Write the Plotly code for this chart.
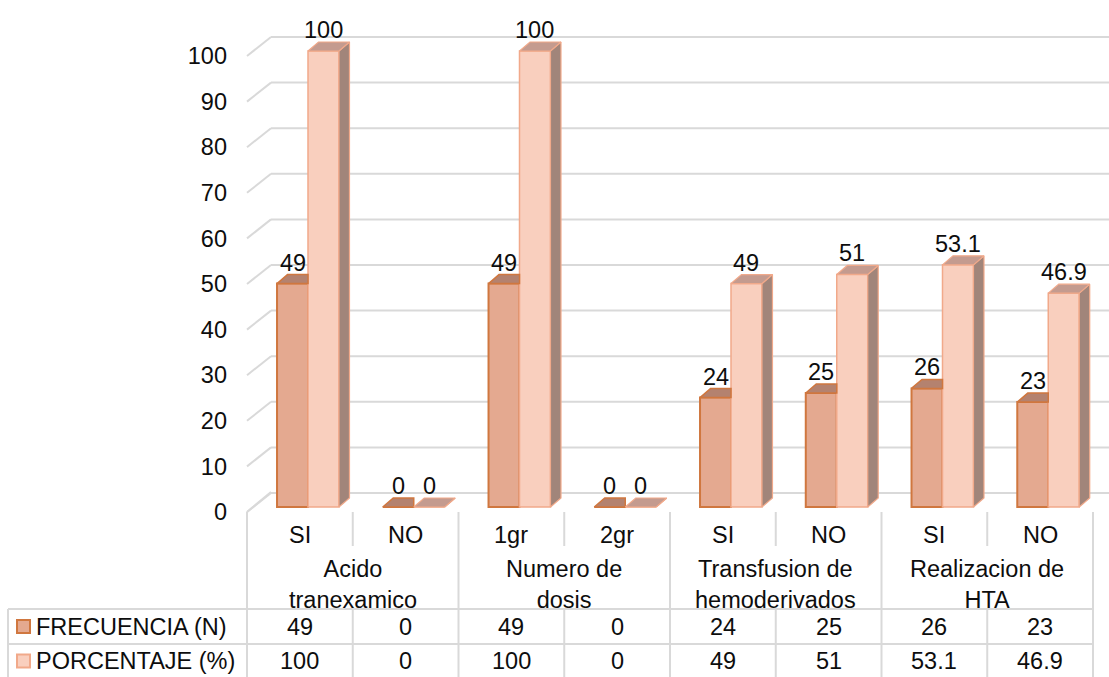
import plotly.graph_objects as go

# ---- data ----
categories = ["SI", "NO", "1gr", "2gr", "SI", "NO", "SI", "NO"]
groups = ["Acido<br>tranexamico", "Numero de<br>dosis",
          "Transfusion de<br>hemoderivados", "Realizacion de<br>HTA"]
series_names = ["FRECUENCIA (N)", "PORCENTAJE (%)"]
frecuencia = [49, 0, 49, 0, 24, 25, 26, 23]
porcentaje = [100, 0, 100, 0, 49, 51, 53.1, 46.9]
y_ticks = [0, 10, 20, 30, 40, 50, 60, 70, 80, 90, 100]

# ---- styling / geometry ----
W, H = 1109, 677
FONT = "Liberation Sans, Arial, sans-serif"
FS = 23.5
TXT = "#0d0d0d"
GRID = "#D9D9D9"

OR_FILL, OR_LINE, OR_TOP = "#E4A990", "#D0773F", "#B4826F"
PK_FILL, PK_LINE, PK_TOP, PK_SIDE = "#F9CFBE", "#F1A98A", "#C49B8F", "#A1857A"

# pixel <-> axis mapping (one category = CAT_PX pixels, one unit = UNIT_PX pixels)
CAT_PX = 105.75
UNIT_PX = 4.56
X0_PX = 308.0      # pixel of category 0 (pair center)
Y0_PX = 507.0      # pixel of value 0 on bar fronts
x_range = [-X0_PX / CAT_PX, (W - X0_PX) / CAT_PX]
y_range = [(Y0_PX - H) / UNIT_PX, Y0_PX / UNIT_PX]

BAR_W = 0.293                  # width of one bar, in category units
DX = 10.5 / CAT_PX             # depth offset (x) of 3D faces
DY = 9.0 / UNIT_PX             # depth offset (y) of 3D faces


def px(x):
    return x / W


def py(y):
    return 1 - y / H


fig = go.Figure()

# gridlines: slanted from the front edge to the back wall, then across
FRONT_X, BACK_X = 247, 271
for v in y_ticks:
    yf = Y0_PX + 5 - v * UNIT_PX
    yb = Y0_PX - 14 - v * UNIT_PX
    fig.add_shape(type="line", xref="paper", yref="paper",
                  x0=px(FRONT_X), y0=py(yf), x1=px(BACK_X), y1=py(yb),
                  line=dict(color=GRID, width=2), layer="below")
    fig.add_shape(type="line", xref="paper", yref="paper",
                  x0=px(BACK_X), y0=py(yb), x1=1, y1=py(yb),
                  line=dict(color=GRID, width=2), layer="below")

xs = list(range(len(categories)))

# front faces
fig.add_trace(go.Bar(x=xs, y=frecuencia, width=BAR_W, offset=-BAR_W,
                     marker=dict(color=OR_FILL, line=dict(color=OR_LINE, width=2)),
                     name=series_names[0], showlegend=False, hoverinfo="skip"))
fig.add_trace(go.Bar(x=xs, y=porcentaje, width=BAR_W, offset=0,
                     marker=dict(color=PK_FILL, line=dict(color=PK_LINE, width=1.5)),
                     name=series_names[1], showlegend=False, hoverinfo="skip"))


def poly_trace(px_list, py_list, fill, line, width):
    return go.Scatter(x=px_list, y=py_list, mode="lines", fill="toself",
                      fillcolor=fill, line=dict(color=line, width=width),
                      hoverinfo="skip", showlegend=False)


# top faces of the first series (its right part hides behind the second series)
tx, ty = [], []
for i, v in zip(xs, frecuencia):
    x0, x1 = i - BAR_W, i
    tx += [x0, x0 + DX, x1, x1, x0, None]
    ty += [v, v + DY, v + DY, v, v, None]
fig.add_trace(poly_trace(tx, ty, OR_TOP, OR_LINE, 1.5))

# top and side faces of the second series
tx, ty, sx, sy = [], [], [], []
for i, v in zip(xs, porcentaje):
    x0, x1 = i, i + BAR_W
    tx += [x0, x0 + DX, x1 + DX, x1, x0, None]
    ty += [v, v + DY, v + DY, v, v, None]
    sx += [x1, x1 + DX, x1 + DX, x1, x1, None]
    sy += [0, DY, v + DY, v, 0, None]
fig.add_trace(poly_trace(sx, sy, PK_SIDE, PK_LINE, 1.2))
fig.add_trace(poly_trace(tx, ty, PK_TOP, PK_LINE, 1.2))

annotations = []
font = dict(family=FONT, size=FS, color=TXT)

# data labels
for i, (a, b) in enumerate(zip(frecuencia, porcentaje)):
    for xc, v in ((i - BAR_W / 2, a), (i + BAR_W / 2, b)):
        annotations.append(dict(x=xc, y=v, xref="x", yref="y", text=f"{v:g}",
                                showarrow=False, xanchor="center", yanchor="bottom",
                                yshift=6, font=font))

# category axis + data table
LEFT_PX, COL0_PX, ROW_TOP, ROW_MID, FLOOR = 8, 247, 609, 644, 512
col_edges = [COL0_PX + k * CAT_PX for k in range(len(categories) + 1)]
col_centers = [COL0_PX + (k + 0.5) * CAT_PX for k in range(len(categories))]

line_kw = dict(color=GRID, width=2)
# floor edge slant
fig.add_shape(type="line", xref="paper", yref="paper",
              x0=px(FRONT_X), y0=py(FLOOR), x1=px(BACK_X), y1=py(FLOOR - 20), line=line_kw)
# vertical separators
for k, xe in enumerate(col_edges):
    if k % 2 == 0:
        fig.add_shape(type="line", xref="paper", yref="paper",
                      x0=px(xe), y0=py(FLOOR), x1=px(xe), y1=0, line=line_kw)
    else:
        fig.add_shape(type="line", xref="paper", yref="paper",
                      x0=px(xe), y0=py(FLOOR), x1=px(xe), y1=py(546), line=line_kw)
        fig.add_shape(type="line", xref="paper", yref="paper",
                      x0=px(xe), y0=py(ROW_TOP), x1=px(xe), y1=0, line=line_kw)
fig.add_shape(type="line", xref="paper", yref="paper",
              x0=px(LEFT_PX), y0=py(ROW_TOP), x1=px(LEFT_PX), y1=0, line=line_kw)
for yr in (ROW_TOP, ROW_MID):
    fig.add_shape(type="line", xref="paper", yref="paper",
                  x0=px(LEFT_PX), y0=py(yr), x1=px(col_edges[-1]), y1=py(yr), line=line_kw)


def text_at(x, y, text, xanchor="center"):
    annotations.append(dict(x=px(x), y=py(y), xref="paper", yref="paper", text=text,
                            showarrow=False, xanchor=xanchor, yanchor="middle",
                            font=font))


for xc, c in zip(col_centers, categories):
    text_at(xc, 535, c)
for g, name in enumerate(groups):
    text_at(col_edges[2 * g + 1], 584, name)

rows = [(frecuencia, 626.5, OR_FILL, OR_LINE), (porcentaje, 661, PK_FILL, PK_LINE)]
for (vals, yc, fill, edge), name in zip(rows, series_names):
    fig.add_shape(type="rect", xref="paper", yref="paper",
                  x0=px(17), x1=px(30), y0=py(yc - 6.5), y1=py(yc + 6.5),
                  fillcolor=fill, line=dict(color=edge, width=2))
    text_at(34, yc, name, xanchor="left")
    for xc, v in zip(col_centers, vals):
        text_at(xc, yc, f"{v:g}")

fig.update_layout(
    width=W, height=H, autosize=False,
    margin=dict(l=0, r=0, t=0, b=0),
    paper_bgcolor="white", plot_bgcolor="rgba(0,0,0,0)",
    barmode="overlay", showlegend=False,
    annotations=annotations,
    xaxis=dict(range=x_range, visible=False, fixedrange=True),
    yaxis=dict(range=y_range, anchor="free", position=px(COL0_PX),
               tickvals=y_ticks, ticks="", showgrid=False, zeroline=False,
               showline=False, ticklabelstandoff=20, ticklabelshift=5,
               tickfont=font, fixedrange=True),
)

fig.write_html("out.html")
